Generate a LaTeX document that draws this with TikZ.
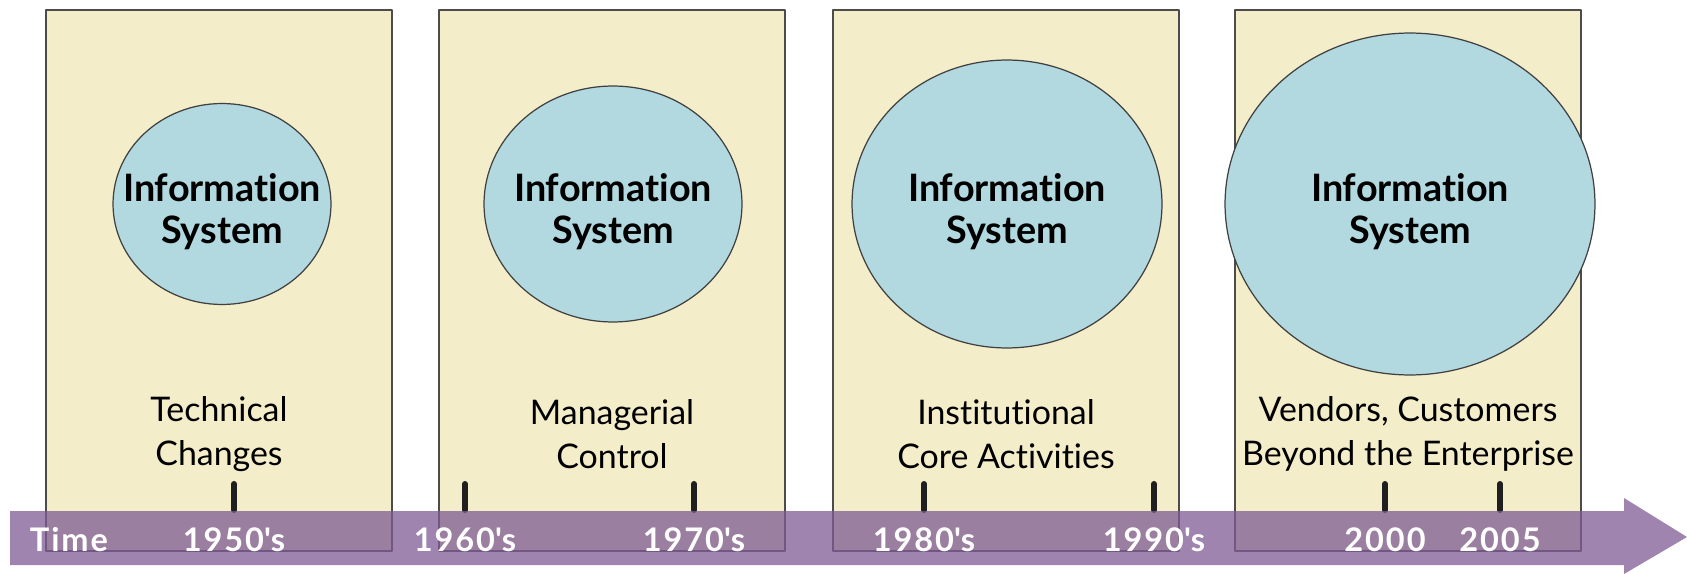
\documentclass[tikz,border=0pt]{standalone}
\usepackage{fontspec}
\setmainfont{Lato}[Ligatures={NoCommon}]
\usetikzlibrary{shapes.geometric}
\definecolor{boxyellow}{HTML}{F4EDC9}
\definecolor{isblue}{HTML}{B2D8E0}
\definecolor{timepurple}{HTML}{7E5B93}
\tikzset{
 era/.style={draw=black!70, line width=1.1pt, fill=boxyellow, minimum width=6.92cm, minimum height=10.82cm, inner sep=0pt},
 infosys/.style={ellipse, draw=black!75, line width=.7pt, fill=isblue, inner sep=0pt},
 istext/.style={align=center, inner sep=0pt, font=\fontsize{21.5}{24}\selectfont\bfseries},
 focus/.style={align=center, font=\fontsize{19.3}{25}\selectfont},
 year/.style={text=white, anchor=base, font=\fontsize{18.5}{20}\selectfont\bfseries\addfontfeature{LetterSpace=6}}
}
\newcommand\yr[1]{#1\textquotesingle s}
\begin{document}
\begin{tikzpicture}[x=0.02cm, y=-0.02cm, line join=round, line cap=round]
 \useasboundingbox (0,0) rectangle (1687,574);
 % era boxes
 \node[era] (b1) at (219,280.5) {};
 \node[era] (b2) at (612,280.5) {};
 \node[era] (b3) at (1006,280.5) {};
 \node[era] (b4) at (1408,280.5) {};
 % information system, growing
 \node[infosys, minimum width=4.36cm, minimum height=4.02cm] (is1) at (222,204) {};
 \node[infosys, minimum width=5.16cm, minimum height=4.72cm] (is2) at (613,204) {};
 \node[infosys, minimum width=6.2cm, minimum height=5.76cm] (is3) at (1007,204) {};
 \node[infosys, minimum width=7.4cm, minimum height=6.84cm] (is4) at (1410,204) {};
 \foreach\n in{is1,is2,is3,is4}{\node[istext] at ([yshift=-0.16cm]\n) {Information\\System};}
 \node[focus] (l1) at (219,434) {Technical\\Changes};
 \node[focus] (l2) at (612,434) {Managerial\\Control};
 \node[focus] (l3) at (1006,434) {Institutional\\Core Activities};
 \node[focus] (l4) at (1408,434) {Vendors, Customers\\Beyond the Enterprise};
 % ticks
 \foreach\i in{234,465,694,924,1154,1385,1500}{\draw[line width=3.4pt, black!88] (\i,484)--(\i,510);}
 % time arrow
 \fill[timepurple, opacity=.75] (10,511)--(1624,511)--(1624,498)--(1687,537)--(1624,574)--(1624,565)--(10,565)--cycle;
 \node[year] (time) at (69,551) {Time};
 \node[year] (y50) at (234,551) {\yr{1950}};
 \node[year] (y60) at (465,551) {\yr{1960}};
 \node[year] (y70) at (694,551) {\yr{1970}};
 \node[year] (y80) at (924,551) {\yr{1980}};
 \node[year] (y90) at (1154,551) {\yr{1990}};
 \node[year] (y00) at (1385,551) {2000};
 \node[year] (y05) at (1500,551) {2005};
\end{tikzpicture}
\end{document}
